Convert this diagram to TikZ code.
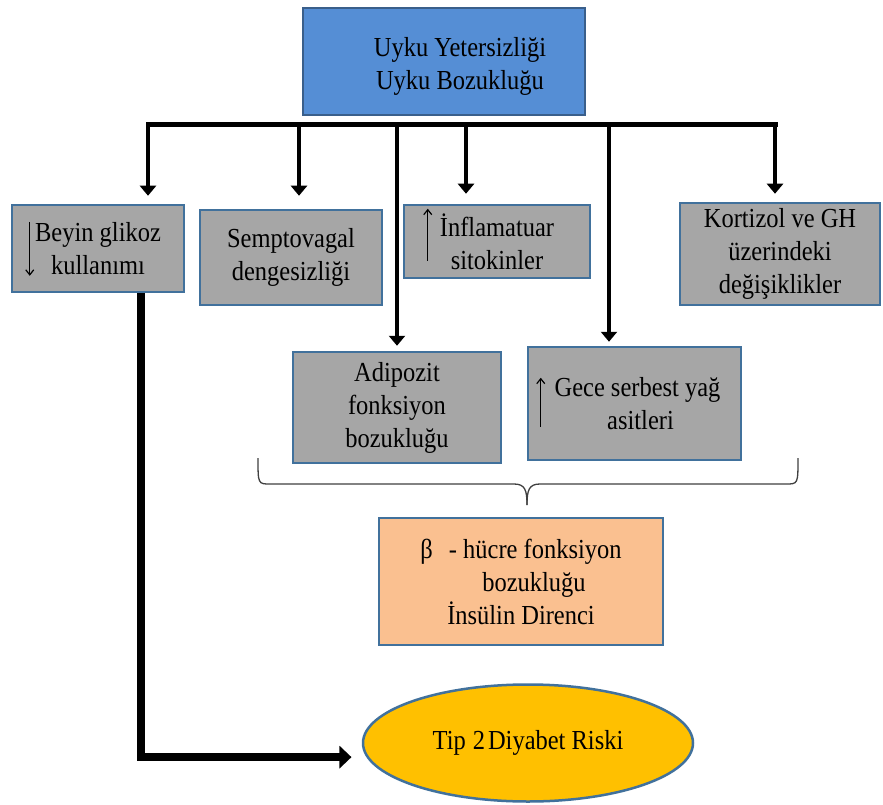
\documentclass[tikz,border=0pt]{standalone}
\usepackage{fontspec}
\setmainfont{Liberation Serif}[FakeStretch=0.89]
\usetikzlibrary{arrows.meta,shapes.geometric,calc}
\definecolor{topblue}{HTML}{558ED5}
\definecolor{topedge}{HTML}{3A5F8B}
\definecolor{boxgray}{HTML}{A6A6A6}
\definecolor{bordblue}{HTML}{41719C}
\definecolor{peach}{HTML}{FAC090}
\definecolor{gold}{HTML}{FFC000}
\definecolor{bracegray}{HTML}{404040}
\newcommand\dfont{\fontsize{27.5}{33}\selectfont}
\begin{document}
\begin{tikzpicture}[x=1pt,y=-1pt,
  base/.style={line width=2.5pt, align=center, inner sep=0pt, font=\dfont},
  graybox/.style={base, draw=bordblue, fill=boxgray},
  topbox/.style={base, draw=topedge, fill=topblue},
  betabox/.style={base, draw=bordblue, fill=peach},
  goal/.style={base, ellipse, draw=bordblue, fill=gold},
  barline/.style={line width=5pt, draw=black, line cap=rect},
  arr/.style={line width=4.5pt, draw=black, -{Triangle[width=16pt,length=10pt]}},
  bigarr/.style={line width=8pt, draw=black, -{Triangle[width=22pt,length=12pt]}},
  thinarr/.style={line width=1.2pt, draw=black, -{Straight Barb[length=5pt,width=8pt]}},
  bracel/.style={line width=1.3pt, draw=bracegray}]
\useasboundingbox (0,0) rectangle (883,805);
\fill[white] (0,0) rectangle (883,805);

% nodes
\node[topbox, minimum width=282pt, minimum height=107pt] (top) at (444,61.5)
  {\rule{0pt}{28pt}\hspace*{32pt}Uyku Yetersizliği\\\hspace*{32pt}Uyku Bozukluğu};
\node[graybox, minimum width=172pt, minimum height=87pt] (b1) at (98,248.5)
  {Beyin glikoz\\kullanımı};
\node[graybox, minimum width=182pt, minimum height=95pt] (b2) at (291,257.5)
  {Semptovagal\\dengesizliği};
\node[graybox, minimum width=186pt, minimum height=73pt] (b3) at (497,241.5)
  {İnflamatuar\\sitokinler};
\node[graybox, minimum width=200pt, minimum height=102pt] (b4) at (780,254)
  {Kortizol ve GH\\üzerindeki\\değişiklikler};
\node[graybox, minimum width=208pt, minimum height=111pt] (b5) at (397,407.5)
  {Adipozit\\fonksiyon\\bozukluğu};
\node[graybox, minimum width=213pt, minimum height=113pt] (b6) at (634.5,403.5)
  {\hspace*{6pt}Gece serbest yağ\\\hspace*{12pt}asitleri};
\node[betabox, minimum width=284pt, minimum height=127pt] (beta) at (521,581.5)
  {β\hspace{16pt}- hücre fonksiyon\\\hspace*{26pt}bozukluğu\\İnsülin Direnci};
\node[goal, minimum width=330pt, minimum height=117pt] (ell) at (528,743)
  {Tip\hspace{7pt}2\hspace{3pt}Diyabet Riski};

% small arrows inside boxes
\draw[thinarr] ([shift={(19,18)}]b1.north west) -- ([shift={(19,72)}]b1.north west);
\draw[thinarr] ([shift={(25,57)}]b3.north west) -- ([shift={(25,5)}]b3.north west);
\draw[thinarr] ([shift={(14,81)}]b6.north west) -- ([shift={(14,32)}]b6.north west);

% distribution bar
\coordinate (barL) at (148,125);
\coordinate (barR) at (775,125);
\coordinate (a2) at (299,125);
\coordinate (a3) at (397,125);
\coordinate (a4) at (466,125);
\coordinate (a5) at (609,125);
\draw[barline] (barL) -- (barR);
\draw[arr, shorten >=8pt] (barL) -- (barL |- b1.north);
\draw[arr, shorten >=13pt] (a2) -- (a2 |- b2.north);
\draw[arr, shorten >=5pt] (a3) -- (a3 |- b5.north);
\draw[arr, shorten >=10pt] (a4) -- (a4 |- b3.north);
\draw[arr, shorten >=4pt] (a5) -- (a5 |- b6.north);
\draw[arr, shorten >=8pt] (barR) -- (barR |- b4.north);

% brace
\draw[bracel] (258,458) .. controls (258,484) and (258,484) .. (270,484)
  -- (514,484) .. controls (525,484) and (527,490) .. (527,505);
\draw[bracel] (527,505) .. controls (527,490) and (529,484) .. (540,484)
  -- (786,484) .. controls (798,484) and (798,484) .. (798,458);

% big arrow to the goal
\draw[bigarr, shorten >=15pt] ([xshift=43pt]b1.south) |- (ell.185);
\end{tikzpicture}
\end{document}
